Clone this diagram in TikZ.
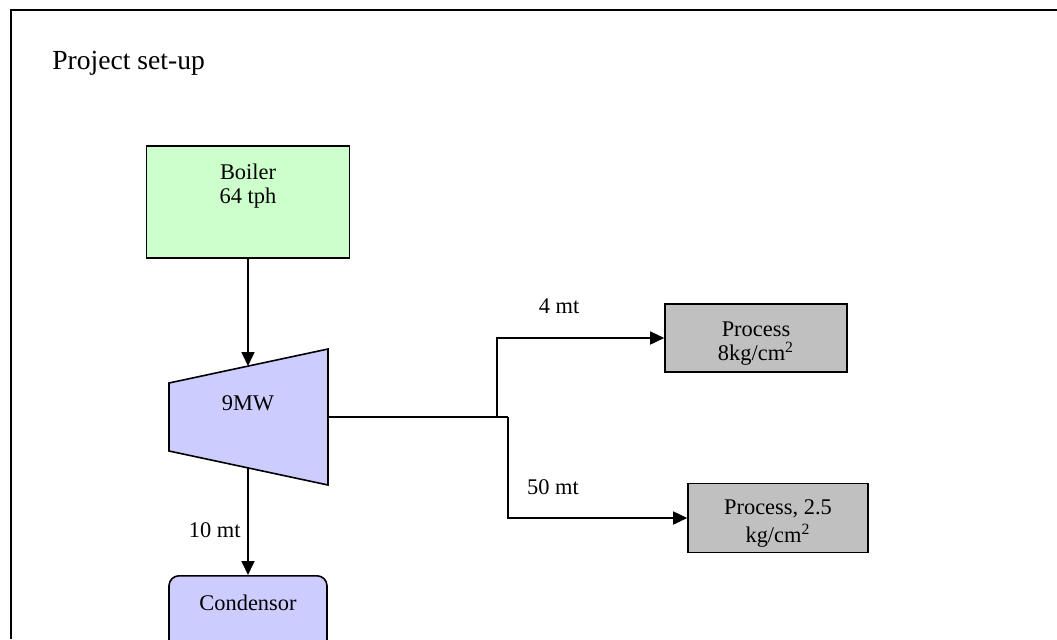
\documentclass[tikz,border=0pt]{standalone}
\usepackage{fontspec}
\setmainfont{Liberation Serif}
\usetikzlibrary{arrows.meta}
\usetikzlibrary{positioning}
\definecolor{boilergreen}{HTML}{CCFFCC}
\definecolor{turbblue}{HTML}{CCCCFF}
\definecolor{procgrey}{HTML}{C0C0C0}
\tikzset{
  box/.style={draw, line width=0.8pt, align=center, inner sep=0pt,
    font=\fontsize{11.2}{12}\selectfont},
  lbl/.style={font=\fontsize{11.2}{12}\selectfont},
  pipe/.style={line width=0.8pt},
  flow/.style={line width=0.8pt, -{Triangle[length=7pt,width=6.5pt]}}
}

\begin{document}
\begin{tikzpicture}[x=0.5pt,y=-0.5pt]
	\useasboundingbox (0,0) rectangle (1057,639);
	\clip (0,0) rectangle (1057,639);
	\draw[line width=1pt] (10.5,639) -- (10.5,10) -- (1057,10);%frame
	\node[anchor=west, inner sep=0pt, font=\fontsize{13.8}{16}\selectfont] (title) at (52,63) {Project set-up};
	\node[box, fill=boilergreen, minimum width=101.5pt, minimum height=56pt] (boiler) at (248,202) {Boiler\\64 tph\\[6pt]\mbox{}};
	% turbine
	\filldraw[fill=turbblue, line width=0.8pt] (169,383) -- (328,349) -- (328,485) -- (169,451) -- cycle;
	\node[lbl] (mw) at (248,403) {9MW};
	\coordinate (tin) at (248,366);
	\coordinate (tout) at (248,468);
	\coordinate (texh) at (328,417);
	\coordinate (j1) at (497,417);
	\coordinate (j2) at (508,417);
	\node[box, fill=turbblue, rounded corners=5pt, minimum width=79pt, minimum height=40pt, anchor=north] (cond) at (248,575) {Condensor\\[1pt]\mbox{}};
	\node[box, fill=procgrey, minimum width=91pt, minimum height=34pt] (proc1) at (756,338) {\rule{0pt}{13pt}Process\\8kg/cm\textsuperscript{2}};
	\node[box, fill=procgrey, minimum width=90pt, minimum height=34.5pt] (proc2) at (778,518) {\rule{0pt}{13pt}Process, 2.5\\[2pt]kg/cm\textsuperscript{2}};
	\node[lbl] (m4) at (559,306) {4 mt};
	\node[lbl] (m50) at (553,487) {50 mt};
	\draw[flow] (boiler) -- (tin);
	\draw[flow] (tout) -- node[lbl, pos=0.58, left] (m10) {10 mt} (cond);
	\draw[pipe] (texh) -- (j2);
	\draw[flow] (j1) |- (proc1);
	\draw[flow] (j2) |- (proc2);
\end{tikzpicture}
\end{document}
